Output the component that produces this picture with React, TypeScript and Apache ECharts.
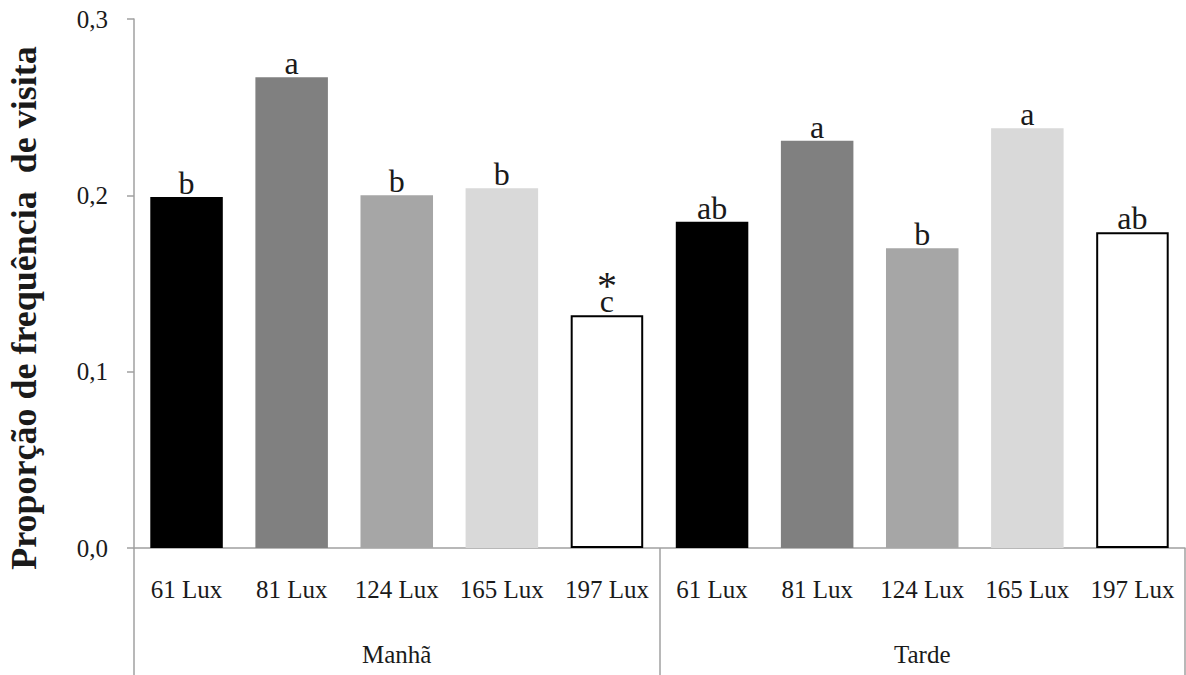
import React, { useEffect, useRef } from "react";
import * as echarts from "echarts";

// Light intensity treatments, repeated for each period of the day
const luxLevels = ["61 Lux", "81 Lux", "124 Lux", "165 Lux", "197 Lux"];
const periods = ["Manhã", "Tarde"];

// Proportion of visit frequency per treatment
const manhaValues = [0.199, 0.267, 0.2, 0.204, 0.132];
const tardeValues = [0.185, 0.231, 0.17, 0.238, 0.179];

// Significance letters shown above the bars
const manhaLetters = ["b", "a", "b", "b", "c"];
const tardeLetters = ["ab", "a", "b", "a", "ab"];
// Extra marker above the letter (difference between periods)
const manhaMarks = ["", "", "", "", "*"];
const tardeMarks = ["", "", "", "", ""];

const barFills = ["#000000", "#808080", "#a6a6a6", "#d9d9d9", "#ffffff"];

const yTicks = [0, 0.1, 0.2, 0.3];

const SERIF = "'Liberation Serif', 'Times New Roman', serif";

export default function App() {
  const ref = useRef<HTMLDivElement>(null);

  useEffect(() => {
    if (!ref.current) return;
    const chart = echarts.init(ref.current, undefined, { renderer: "svg" });

    const categories = [...luxLevels, ...luxLevels];
    const values = [...manhaValues, ...tardeValues];
    const letters = [...manhaLetters, ...tardeLetters];
    const marks = [...manhaMarks, ...tardeMarks];

    const data = values.map((v, i) => {
      const fill = barFills[i % barFills.length];
      const isWhite = fill === "#ffffff";
      return {
        value: v,
        itemStyle: {
          color: fill,
          borderColor: isWhite ? "#000000" : fill,
          borderWidth: isWhite ? 2 : 0,
        },
        label: {
          formatter: marks[i]
            ? `{star|${marks[i]}}\n{let|${letters[i]}}`
            : `{let|${letters[i]}}`,
        },
      };
    });

    const axisGray = "#a0a0a0";
    const textColor = "#1a1a1a";

    chart.setOption({
      animation: false,
      backgroundColor: "#ffffff",
      grid: { left: 134, right: 1, top: 19, bottom: 127, containLabel: false },
      xAxis: [
        {
          type: "category",
          data: categories,
          position: "bottom",
          axisLine: { show: true, lineStyle: { color: axisGray, width: 1.5 } },
          axisTick: { show: false },
          axisLabel: {
            interval: 0,
            margin: 29,
            color: textColor,
            fontFamily: SERIF,
            fontSize: 25,
          },
        },
        {
          type: "category",
          data: periods,
          position: "bottom",
          axisLine: { show: false },
          axisTick: {
            show: true,
            interval: 0,
            length: 128,
            lineStyle: { color: axisGray, width: 1.5 },
          },
          axisLabel: {
            interval: 0,
            margin: 94,
            color: textColor,
            fontFamily: SERIF,
            fontSize: 25,
          },
        },
      ],
      yAxis: {
        type: "value",
        min: yTicks[0],
        max: yTicks[yTicks.length - 1],
        interval: 0.1,
        splitLine: { show: false },
        axisLine: { show: true, lineStyle: { color: axisGray, width: 1.5 } },
        axisTick: {
          show: true,
          inside: false,
          length: 7,
          lineStyle: { color: axisGray, width: 1.5 },
        },
        axisLabel: {
          margin: 26,
          color: textColor,
          fontFamily: SERIF,
          fontSize: 25,
          formatter: (v: number) => v.toFixed(1).replace(".", ","),
        },
      },
      series: [
        {
          type: "bar",
          xAxisIndex: 0,
          data,
          barCategoryGap: "31%",
          label: {
            show: true,
            position: "top",
            distance: 0,
            color: textColor,
            fontFamily: SERIF,
            rich: {
              let: { fontFamily: SERIF, fontSize: 32, color: textColor, lineHeight: 28 },
              star: { fontFamily: SERIF, fontSize: 40, color: textColor, lineHeight: 4 },
            },
          },
        },
      ],
      graphic: [
        {
          type: "text",
          x: 24,
          y: 308,
          rotation: Math.PI / 2,
          style: {
            text: "Proporção de frequência  de visita",
            fontFamily: SERIF,
            fontWeight: "bold",
            fontSize: 36,
            fill: textColor,
            textAlign: "center",
            textVerticalAlign: "middle",
          },
        },
      ],
    });

    return () => chart.dispose();
  }, []);

  return (
    <div
      ref={ref}
      style={{ position: "fixed", left: 0, top: 0, width: 1186, height: 675, background: "#fff" }}
    />
  );
}
